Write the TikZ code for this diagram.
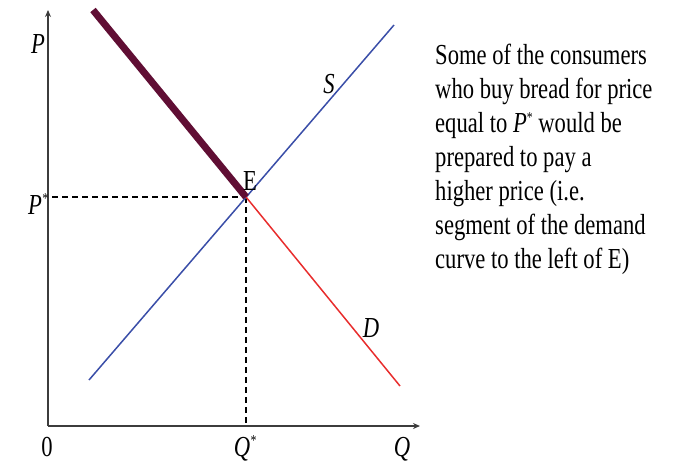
\documentclass[tikz,border=0pt]{standalone}
\usepackage{fontspec}
\setmainfont{Liberation Serif}
\newfontfamily\txtfont[FakeStretch=0.78]{Liberation Serif}
\usetikzlibrary{arrows.meta}
\definecolor{maroonD}{RGB}{96,14,52}
\definecolor{redD}{RGB}{232,45,45}
\definecolor{blueS}{RGB}{58,78,168}
\definecolor{axisgray}{RGB}{60,60,60}
\tikzset{
  axisline/.style={draw=axisgray, line width=1.4pt, -{Stealth[length=7pt,width=6pt]}},
  dashline/.style={draw=black, line width=1.3pt, dash pattern=on 6pt off 4pt},
  lbl/.style={inner sep=0pt, font=\txtfont\fontsize{29}{34}\selectfont},
  ilbl/.style={lbl, font=\txtfont\itshape\fontsize{29}{34}\selectfont},
}
\begin{document}
\begin{tikzpicture}[x=1pt,y=-1pt]
\useasboundingbox (0,0) rectangle (677,464);
% coordinates
\coordinate (O) at (48,426);
\coordinate (Ytop) at (48,10);
\coordinate (Xend) at (420,426);
\coordinate (E) at (246,197);
\coordinate (Dtop) at (93,10);
\coordinate (Dbot) at (400,386);
\coordinate (Sbot) at (89,380);
\coordinate (Stop) at (394,25);
\coordinate (Pstar) at (52,197);
\coordinate (Qstar) at (246,426);
% dashed guides
\draw[dashline] (Pstar) -- (E);
\draw[dashline] (E) -- (Qstar);
% curves
\draw[blueS, line width=1.5pt] (Sbot) -- (Stop);
\draw[redD, line width=1.5pt] (E) -- (Dbot);
\draw[maroonD, line width=7pt] (Dtop) -- (E);
% axes
\draw[axisline] (O) -- (Ytop);
\draw[axisline] (O) -- (Xend);
% labels
\node[ilbl, anchor=base] (lP) at (38,53) {P};
\node[ilbl, anchor=base] (lPs) at (38,214) {P\raisebox{0.35em}{\fontsize{15}{15}\selectfont *}};
\node[lbl, anchor=base] (l0) at (47,456) {0};
\node[ilbl, anchor=base] (lQs) at (245,456) {Q\raisebox{0.35em}{\fontsize{15}{15}\selectfont *}};
\node[ilbl, anchor=base] (lQ) at (402,456) {Q};
\node[ilbl, anchor=base] (lS) at (329,93) {S};
\node[ilbl, anchor=base] (lD) at (371,337) {D};
\node[lbl, anchor=base] (lE) at (250,190) {E};
% explanation text
\node[lbl, anchor=north west, align=left] (txt) at (435,44) {Some of the consumers\\
who buy bread for price\\
equal to \textit{P}\raisebox{0.35em}{\fontsize{15}{15}\selectfont *} would be\\
prepared to pay a\\
higher price (i.e.\\
segment of the demand\\
curve to the left of E)};
\end{tikzpicture}
\end{document}
